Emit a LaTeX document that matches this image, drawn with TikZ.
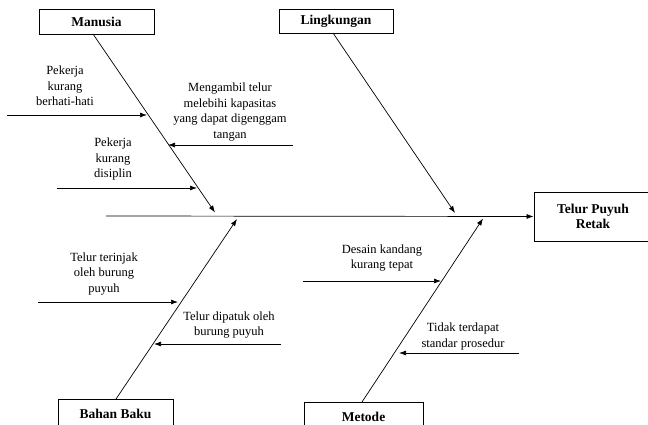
\documentclass[tikz,border=0pt]{standalone}
\usepackage{fontspec}
\setmainfont{Liberation Serif}
\usetikzlibrary{arrows.meta}
\begin{document}
\begin{tikzpicture}[x=1pt,y=-1pt,
  catbox/.style={draw,line width=0.9pt,font=\fontsize{13.5}{15}\selectfont\bfseries,inner sep=0pt,align=center},
  causetext/.style={font=\fontsize{12.5}{15.5}\selectfont,align=center,inner sep=0pt},
  bone/.style={line width=0.7pt,-{Latex[length=7pt,width=5pt]}},
  sub/.style={line width=0.7pt,-{Latex[length=7pt,width=5pt]}}]
\useasboundingbox (0,0) rectangle (648,425);
% category boxes
\node[catbox,minimum width=115pt,minimum height=25pt] (man) at (96.5,21.5) {Manusia};
\node[catbox,minimum width=114pt,minimum height=24pt] (ling) at (336,21) {Lingkungan};
\node[catbox,minimum width=118pt,minimum height=49pt] (eff) at (593,216.5) {Telur Puyuh\\Retak};
\node[catbox,minimum width=115pt,minimum height=30pt] (bahan) at (115.5,414) {Bahan Baku};
\node[catbox,minimum width=119pt,minimum height=30pt] (met) at (363.5,417) {Metode};
% spine
\coordinate (spst) at (106,216);
\draw[bone] (spst) -- (eff.west);
% bones
\coordinate (manb) at (93,34);
\coordinate (mant) at (215,212.5);
\coordinate (lingb) at (333,33);
\coordinate (lingt) at (455,213);
\coordinate (bahb) at (116,399);
\coordinate (baht) at (237,219);
\coordinate (metb) at (362,402);
\coordinate (mett) at (483,218.5);
\draw[bone] (manb) -- (mant);
\draw[bone] (lingb) -- (lingt);
\draw[bone] (bahb) -- (baht);
\draw[bone] (metb) -- (mett);
% sub causes - Manusia
\node[causetext] (c1) at (65,86) {Pekerja\\kurang\\berhati-hati};
\coordinate (c1s) at (7,115); \coordinate (c1e) at (147,115);
\draw[sub] (c1s) -- (c1e);
\node[causetext] (c2) at (230,112) {Mengambil telur\\melebihi kapasitas\\yang dapat digenggam\\tangan};
\coordinate (c2s) at (293,145); \coordinate (c2e) at (168,145);
\draw[sub] (c2s) -- (c2e);
\node[causetext] (c3) at (113,159) {Pekerja\\kurang\\disiplin};
\coordinate (c3s) at (57,188); \coordinate (c3e) at (197,188);
\draw[sub] (c3s) -- (c3e);
% sub causes - Bahan Baku
\node[causetext] (c4) at (104,274) {Telur terinjak\\oleh burung\\puyuh};
\coordinate (c4s) at (38,302); \coordinate (c4e) at (178,302);
\draw[sub] (c4s) -- (c4e);
\node[causetext] (c5) at (229,325) {Telur dipatuk oleh\\burung puyuh};
\coordinate (c5s) at (281,344); \coordinate (c5e) at (154,344);
\draw[sub] (c5s) -- (c5e);
% sub causes - Metode
\node[causetext] (c6) at (382,258) {Desain kandang\\kurang tepat};
\coordinate (c6s) at (303,281); \coordinate (c6e) at (441,281);
\draw[sub] (c6s) -- (c6e);
\node[causetext] (c7) at (463,336.5) {Tidak terdapat\\standar prosedur};
\coordinate (c7s) at (519,353); \coordinate (c7e) at (399,353);
\draw[sub] (c7s) -- (c7e);
\end{tikzpicture}
\end{document}
